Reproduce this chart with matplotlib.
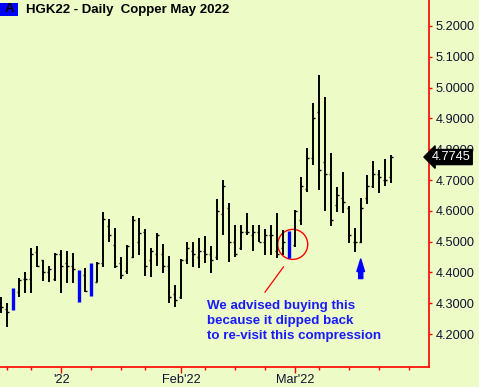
import matplotlib
matplotlib.use("Agg")
import matplotlib.pyplot as plt
from matplotlib.patches import Ellipse, Rectangle

# daily bars, Dec 17 2021 .. Mar 23 2022 (bar index = trading day)
opens = [4.30, 4.28, 4.29, 4.335, 4.38, 4.38, 4.465, 4.44, 4.40, 4.38,
         4.46, 4.43, 4.42, 4.36, 4.39, 4.37, 4.37, 4.43, 4.55, 4.49,
         4.43, 4.405, 4.45, 4.50, 4.53, 4.44, 4.46, 4.46, 4.42, 4.33,
         4.32, 4.44, 4.47, 4.45, 4.47, 4.46, 4.45, 4.59, 4.61, 4.50,
         4.48, 4.53, 4.52, 4.53, 4.50, 4.52, 4.47, 4.48, 4.46, 4.49,
         4.57, 4.67, 4.77, 4.92, 4.76, 4.72, 4.62, 4.64, 4.61, 4.50,
         4.50, 4.64, 4.68, 4.72, 4.70, 4.71]
highs = [4.32, 4.30, 4.35, 4.381, 4.402, 4.478, 4.486, 4.440, 4.421, 4.464,
         4.473, 4.471, 4.464, 4.408, 4.413, 4.431, 4.434, 4.597, 4.572, 4.543,
         4.451, 4.489, 4.583, 4.576, 4.540, 4.478, 4.529, 4.492, 4.453, 4.359,
         4.443, 4.500, 4.500, 4.513, 4.518, 4.486, 4.637, 4.700, 4.626, 4.554,
         4.554, 4.592, 4.554, 4.554, 4.540, 4.554, 4.592, 4.538, 4.535, 4.603,
         4.709, 4.803, 4.951, 5.041, 4.970, 4.787, 4.678, 4.727, 4.616, 4.543,
         4.640, 4.716, 4.763, 4.732, 4.767, 4.781]
lows = [4.267, 4.224, 4.278, 4.321, 4.332, 4.332, 4.417, 4.373, 4.370, 4.373,
        4.332, 4.367, 4.367, 4.305, 4.337, 4.323, 4.370, 4.419, 4.500, 4.413,
        4.378, 4.395, 4.446, 4.456, 4.388, 4.386, 4.421, 4.399, 4.300, 4.287,
        4.314, 4.427, 4.419, 4.413, 4.432, 4.397, 4.440, 4.521, 4.435, 4.449,
        4.473, 4.521, 4.471, 4.500, 4.456, 4.456, 4.446, 4.456, 4.446, 4.483,
        4.554, 4.660, 4.749, 4.668, 4.600, 4.552, 4.595, 4.594, 4.494, 4.467,
        4.496, 4.621, 4.673, 4.657, 4.681, 4.691]
closes = [4.289, 4.272, 4.33, 4.375, 4.379, 4.46, 4.42, 4.40, 4.41, 4.46,
          4.42, 4.42, 4.41, 4.32, 4.34, 4.40, 4.43, 4.572, 4.52, 4.42,
          4.39, 4.487, 4.57, 4.527, 4.42, 4.47, 4.52, 4.42, 4.32, 4.31,
          4.44, 4.48, 4.46, 4.47, 4.46, 4.44, 4.60, 4.68, 4.50, 4.46,
          4.53, 4.53, 4.53, 4.50, 4.52, 4.52, 4.46, 4.50, 4.50, 4.60,
          4.68, 4.77, 4.90, 4.732, 4.72, 4.57, 4.65, 4.63, 4.52, 4.50,
          4.61, 4.68, 4.72, 4.71, 4.70, 4.7745]

highlight = [2, 13, 15, 48]          # bars drawn in blue
week_ticks = [1, 5, 10, 15, 20, 24, 30, 34, 39, 44, 49, 53, 58, 63, 68]
month_ticks = [10, 30, 49]
month_labels = ["'22", "Feb'22", "Mar'22"]
price_ticks = [4.2, 4.3, 4.4, 4.5, 4.6, 4.7, 4.8, 4.9, 5.0, 5.1, 5.2]
last_price = 4.7745

bg = '#EDFCC6'
red = '#FF0000'
ink = '#101030'
font = 'Liberation Sans'

fig = plt.figure(figsize=(4.79, 3.87), dpi=100, facecolor=bg)
ax = fig.add_axes([0, 20 / 387, 429 / 479, 367 / 387])
ax.set_facecolor(bg)

x = list(range(len(opens)))
normal = [i for i in x if i not in highlight]
ax.vlines(normal, [lows[i] for i in normal], [highs[i] for i in normal],
          color='black', lw=1.4)
ax.hlines([opens[i] for i in normal], [i - 0.36 for i in normal], normal,
          color='black', lw=1.0)
ax.hlines([closes[i] for i in normal], normal, [i + 0.36 for i in normal],
          color='black', lw=1.0)
ax.vlines(highlight, [lows[i] for i in highlight], [highs[i] for i in highlight],
          color='#0000FF', lw=2.4)

ax.set_xlim(-0.22, 71.28)
ax.set_ylim(4.0929, 5.2844)

# axes: red right + bottom only
for s in ['top', 'left']:
    ax.spines[s].set_visible(False)
for s in ['right', 'bottom']:
    ax.spines[s].set_color(red)
    ax.spines[s].set_linewidth(1.2)

ax.yaxis.tick_right()
ax.set_yticks(price_ticks)
ax.set_yticklabels(['%.4f' % p for p in price_ticks])
ax.tick_params(axis='y', colors=red, length=2.5, width=1.0, pad=2,
               labelcolor=ink, labelsize=9.2)
for lab in ax.get_yticklabels():
    lab.set_fontfamily(font)

ax.set_xticks(week_ticks, minor=True)
ax.set_xticks(month_ticks)
ax.set_xticklabels(month_labels)
ax.tick_params(axis='x', which='major', colors=red, length=4.3, width=1.0,
               pad=0.5, labelcolor=ink, labelsize=9.2)
ax.tick_params(axis='x', which='minor', colors=red, length=2.0, width=1.0)
for lab in ax.get_xticklabels():
    lab.set_fontfamily(font)

# last price flag
ax.text(71.75, last_price, '%.4f' % last_price, color='white', fontsize=9.2,
        family=font, va='center', ha='left', clip_on=False, zorder=10,
        bbox=dict(boxstyle='larrow,pad=0.12', fc='black', ec='black'))

# annotations
ax.add_patch(Ellipse((48.57, 4.491), 5.0, 0.0974, fill=False, ec=red, lw=1.0))
ax.plot([43.95, 47.03], [4.336, 4.418], color=red, lw=0.9)
ax.text(34.3, 4.242, 'We advised buying this\nbecause it dipped back\nto re-visit this compression',
        color='#1A1AFF', fontsize=9.6, fontweight='bold', family=font,
        va='center', ha='left', linespacing=1.3)
ax.annotate('', xy=(59.9, 4.4435), xytext=(59.9, 4.380),
            arrowprops=dict(arrowstyle='simple,head_width=0.55,head_length=0.9,tail_width=0.3',
                            color='#0000FF', mutation_scale=10, shrinkA=0, shrinkB=0))

# header
fig.patches.append(Rectangle((0, 1 - 16 / 387), 18 / 479, 13 / 387,
                             transform=fig.transFigure, fc='#0000FF', ec='none'))
fig.text(9 / 479, 1 - 9.5 / 387, 'A', color='black', fontsize=9.5, fontweight='bold',
         family=font, ha='center', va='center')
fig.text(26 / 479, 1 - 9.5 / 387, 'HGK22 - Daily  Copper May 2022', color='black',
         fontsize=9.5, fontweight='bold', family=font, ha='left', va='center')

fig.savefig('out.png', dpi=100, facecolor=bg)
plt.close(fig)
